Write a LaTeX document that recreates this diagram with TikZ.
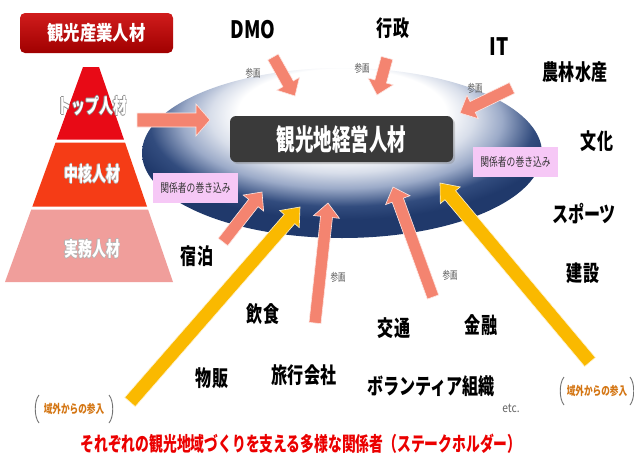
\documentclass[tikz,border=0pt]{standalone}
\usepackage{fontspec}
\usepackage{graphicx}
\newfontfamily\jp{Noto Sans CJK JP}
\usetikzlibrary{calc,shadows}

\definecolor{arrpink}{RGB}{244,132,112}
\definecolor{arryel}{RGB}{250,185,0}
\definecolor{pytop}{RGB}{232,10,22}
\definecolor{pymid}{RGB}{245,60,22}
\definecolor{pybot}{RGB}{240,158,155}
\definecolor{boxdark}{RGB}{58,58,58}
\definecolor{pinkbox}{RGB}{246,200,246}
\definecolor{ellight}{RGB}{216,222,234}
\definecolor{elmid}{RGB}{155,170,200}
\definecolor{elnavy}{RGB}{50,76,126}
\definecolor{elnavyb}{RGB}{32,57,107}
\definecolor{orangetxt}{RGB}{212,118,20}
\definecolor{titlered}{RGB}{235,0,0}

\newcommand\sx[2]{\scalebox{#1}[1]{#2}}

\pgfdeclareradialshading{ellsh}{\pgfpoint{0bp}{16bp}}{%
  color(0bp)=(white); color(13bp)=(white); color(16.5bp)=(ellight); color(20bp)=(elmid);
  color(24bp)=(elnavy); color(27bp)=(elnavyb); color(50bp)=(elnavyb)}

% tail, tip, style, half shaft, half head, head length
\newcommand\myblockarrow[6]{%
  \coordinate (ba-b) at ($(#2)!#6!(#1)$);
  \filldraw[#3] ($(#1)!#4!90:(#2)$) -- ($(ba-b)!#4!90:(#2)$) -- ($(ba-b)!#5!90:(#2)$)
    -- (#2) -- ($(ba-b)!#5!-90:(#2)$) -- ($(ba-b)!#4!-90:(#2)$) -- ($(#1)!#4!-90:(#2)$) -- cycle;}

\tikzset{
  lbl/.style={font=\jp\bfseries\fontsize{22}{22}\selectfont, inner sep=0pt, text=black},
  latinlbl/.style={font=\jp\bfseries\fontsize{24}{24}\selectfont, inner sep=0pt, text=black},
  sanka/.style={font=\jp\fontsize{11}{11}\selectfont, inner sep=0pt, text=black!65},
  pyt/.style={font=\jp\bfseries\fontsize{20}{20}\selectfont, inner sep=0pt, text=white},
  pysh/.style={font=\jp\bfseries\fontsize{20}{20}\selectfont, inner sep=0pt, text=black!45},
  kbox/.style={fill=pinkbox, inner sep=0pt, font=\jp\fontsize{12}{12}\selectfont, text=black!80},
  iki/.style={font=\jp\bfseries\fontsize{12}{12}\selectfont, inner sep=0pt, text=orangetxt},
  brk/.style={draw=black!55, line width=0.9pt},
  pinkarr/.style={fill=arrpink, draw=white!80!arrpink, line width=0.6pt},
  yelarr/.style={fill=arryel, draw=white!80!arryel, line width=0.6pt},
}

\begin{document}
\begin{tikzpicture}[x=1pt,y=-1pt]
\useasboundingbox[fill=white] (0,0) rectangle (634,466);

% ellipse background: radial white-to-navy, focus raised
\shade[shading=ellsh] (342,153) ellipse [x radius=200, y radius=85];

% title box
\node[shade, top color={rgb,255:red,208;green,28;blue,28}, bottom color={rgb,255:red,160;green,0;blue,0},
      rounded corners=5pt, minimum width=153pt, minimum height=40pt, inner sep=0pt,
      font=\jp\bfseries\fontsize{20}{20}\selectfont, text=white] (sangyo) at (96.5,33) {\sx{0.82}{観光産業人材}};

% pyramid
\fill[pytop] (83,67) -- (99,67) -- (123.95,139.5) -- (56.7,139.5) -- cycle;
\fill[pymid] (55.6,142.5) -- (125,142.5) -- (147,206.5) -- (32.4,206.5) -- cycle;
\fill[pybot] (31.3,209.5) -- (148.05,209.5) -- (173,282) -- (5,282) -- cycle;
\foreach \dx/\dy [count=\i] in {-0.7/0,0.7/0,0/-0.7,0/0.7}{
  \node[pysh] (topsh\i) at (92+\dx,106+\dy) {\sx{0.7}{トップ人材}};
  \node[pysh, text=black!30] (coresh\i) at (92+\dx,174+\dy) {\sx{0.7}{中核人材}};
  \node[pysh, text=black!30] (worksh\i) at (92+\dx,249+\dy) {\sx{0.7}{実務人材}};
}
\node[pyt] (top) at (92,106) {\sx{0.7}{トップ人材}};
\node[pyt] (core) at (92,174) {\sx{0.7}{中核人材}};
\node[pyt] (work) at (92,249) {\sx{0.7}{実務人材}};

% central box
\node[fill=boxdark, rounded corners=6pt, minimum width=223pt, minimum height=46pt, inner sep=0pt,
      drop shadow={opacity=0.35, shadow xshift=2pt, shadow yshift=-2pt},
      font=\jp\bfseries\fontsize{29}{29}\selectfont, text=white] (keiei) at (341.5,139) {\sx{0.64}{観光地経営人材}};

% involvement boxes
\node[kbox, minimum width=85pt, minimum height=30pt] (kl) at (195.5,188) {\sx{0.73}{関係者の巻き込み}};
\node[kbox, minimum width=85pt, minimum height=30pt] (kr) at (515.5,162) {\sx{0.73}{関係者の巻き込み}};

% arrow coordinates
\coordinate (a1t) at (137,120);  \coordinate (a1h) at (210,120);
\coordinate (a2t) at (273,57);   \coordinate (a2h) at (295,96);
\coordinate (a3t) at (387,58);   \coordinate (a3h) at (377,95);
\coordinate (a4t) at (512,88);   \coordinate (a4h) at (460,113);
\coordinate (a5t) at (223,242);  \coordinate (a5h) at (262,192);
\coordinate (a6t) at (315,323);  \coordinate (a6h) at (328,203);
\coordinate (a7t) at (433,297);  \coordinate (a7h) at (393,187);
\coordinate (y1t) at (130,402);  \coordinate (y1h) at (300,207);
\coordinate (y2t) at (590,362);  \coordinate (y2h) at (440,183);

\myblockarrow{a1t}{a1h}{pinkarr}{7pt}{16pt}{14pt}
\myblockarrow{a2t}{a2h}{pinkarr}{6pt}{13pt}{14pt}
\myblockarrow{a3t}{a3h}{pinkarr}{6pt}{13pt}{14pt}
\myblockarrow{a4t}{a4h}{pinkarr}{6pt}{13pt}{14pt}
\myblockarrow{a5t}{a5h}{pinkarr}{6pt}{13pt}{14pt}
\myblockarrow{a6t}{a6h}{pinkarr}{6pt}{13pt}{14pt}
\myblockarrow{a7t}{a7h}{pinkarr}{6pt}{13pt}{14pt}
\myblockarrow{y1t}{y1h}{yelarr}{7pt}{13pt}{16pt}
\myblockarrow{y2t}{y2h}{yelarr}{7pt}{13pt}{16pt}

% sanka labels
\node[sanka] (s1) at (253,73) {\sx{0.68}{参画}};
\node[sanka] (s2) at (362,68) {\sx{0.68}{参画}};
\node[sanka] (s3) at (475,88) {\sx{0.68}{参画}};
\node[sanka] (s4) at (338,277) {\sx{0.68}{参画}};
\node[sanka] (s5) at (450,275) {\sx{0.68}{参画}};

% stakeholder labels
\node[latinlbl] (dmo) at (253,30) {\sx{0.78}{DMO}};
\node[lbl] (gyosei) at (393,28) {\sx{0.73}{行政}};
\node[latinlbl] (it) at (499,47) {\sx{0.8}{IT}};
\node[lbl] (nourin) at (575,72) {\sx{0.73}{農林水産}};
\node[lbl] (bunka) at (597,141) {\sx{0.73}{文化}};
\node[lbl] (sports) at (584,214) {\sx{0.73}{スポーツ}};
\node[lbl] (kensetsu) at (583,273) {\sx{0.73}{建設}};
\node[lbl] (shukuhaku) at (197,256) {\sx{0.73}{宿泊}};
\node[lbl] (inshoku) at (263,314) {\sx{0.73}{飲食}};
\node[lbl] (koutsu) at (394,328) {\sx{0.73}{交通}};
\node[lbl] (kinyu) at (481,325) {\sx{0.73}{金融}};
\node[lbl] (buppan) at (212,378) {\sx{0.73}{物販}};
\node[lbl] (ryokou) at (304,375) {\sx{0.73}{旅行会社}};
\node[lbl] (volunteer) at (431,386) {\sx{0.73}{ボランティア組織}};
\node[font=\jp\fontsize{12}{12}\selectfont, inner sep=0pt, text=black!60] (etc) at (511,408) {\sx{0.85}{etc.}};

% outside entry
\draw[brk] (39,395) .. controls (34,401) and (34,417) .. (39,423);
\draw[brk] (109,395) .. controls (114,401) and (114,417) .. (109,423);
\node[iki] (ikil) at (74,409) {\sx{0.72}{域外からの参入}};
\draw[brk] (564,377) .. controls (559,383) and (559,399) .. (564,405);
\draw[brk] (630,377) .. controls (635,383) and (635,399) .. (630,405);
\node[iki] (ikir) at (597,391) {\sx{0.72}{域外からの参入}};

% bottom title
\node[font=\jp\bfseries\fontsize{20}{20}\selectfont, inner sep=0pt, text=titlered] (title) at (301,444)
  {\sx{0.69}{それぞれの観光地域づくりを支える多様な関係者（ステークホルダー）}};
\end{tikzpicture}
\end{document}
